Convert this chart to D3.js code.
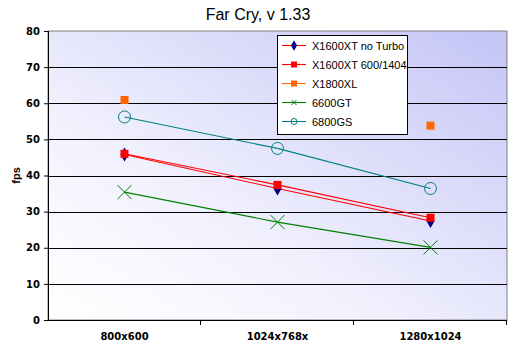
<!DOCTYPE html>
<html>
<head>
<meta charset="utf-8">
<script src="https://cdn.jsdelivr.net/npm/d3@7"></script>
<style>
  body { margin: 0; background: #fff; }
  svg { font-family: Arial, "Liberation Sans", sans-serif; }
</style>
</head>
<body>
<div id="chart"></div>
<script>
// data
const resolutions = ["800x600", "1024x768x", "1280x1024"];
const yTicks = [0, 10, 20, 30, 40, 50, 60, 70, 80];
const seriesNames = ["X1600XT no Turbo", "X1600XT 600/1404", "X1800XL", "6600GT", "6800GS"];
const x1600NoTurbo = [45.8, 36.4, 27.4];
const x1600Oc = [46.0, 37.4, 28.3];
const x1800xl = [60.9, null, 53.8];
const gt6600 = [35.4, 27.1, 20.1];
const gs6800 = [56.2, 47.5, 36.4];

const series = [
  {name: seriesNames[0], values: x1600NoTurbo, line: "#ff0000", mark: "diamond", fill: "#000080"},
  {name: seriesNames[1], values: x1600Oc, line: "#ff0000", mark: "square", fill: "#ff0000"},
  {name: seriesNames[2], values: x1800xl, line: "#ff6600", mark: "square", fill: "#ff6600"},
  {name: seriesNames[3], values: gt6600, line: "#008000", mark: "x", fill: "#008000"},
  {name: seriesNames[4], values: gs6800, line: "#008080", mark: "circle", fill: "none"}
];

const W = 516, H = 351;
const margin = {top: 31, right: 9, bottom: 31, left: 48};
const innerW = W - margin.left - margin.right;
const innerH = H - margin.top - margin.bottom;

const svg = d3.select("#chart").append("svg")
    .attr("width", W)
    .attr("height", H);

const defs = svg.append("defs");
const grad = defs.append("linearGradient")
    .attr("id", "bg")
    .attr("x1", "0%").attr("y1", "100%")
    .attr("x2", "100%").attr("y2", "0%");
grad.append("stop").attr("offset", "0%").attr("stop-color", "#ffffff");
grad.append("stop").attr("offset", "35%").attr("stop-color", "#f2f2fe");
grad.append("stop").attr("offset", "100%").attr("stop-color", "#c4c4f6");

svg.append("text")
    .attr("x", W / 2)
    .attr("y", 20)
    .attr("text-anchor", "middle")
    .style("font-size", "16px")
    .text("Far Cry, v 1.33");

const g = svg.append("g")
    .attr("transform", "translate(" + margin.left + "," + margin.top + ")");

const x = d3.scaleBand()
    .domain(resolutions)
    .range([0, innerW]);

const y = d3.scaleLinear()
    .domain([0, 80])
    .range([innerH, 0]);

g.append("rect")
    .attr("width", innerW)
    .attr("height", innerH)
    .style("fill", "url(#bg)")
    .style("stroke", "#808080");

// gridlines
g.selectAll(".grid")
    .data(yTicks.slice(1, -1))
    .enter().append("line")
    .attr("x1", 0).attr("x2", innerW)
    .attr("y1", d => Math.round(y(d)) + 0.5)
    .attr("y2", d => Math.round(y(d)) + 0.5)
    .style("stroke", "#000")
    .style("stroke-width", 1);

// y axis
const yAxis = d3.axisLeft(y)
    .tickValues(yTicks)
    .tickSize(4)
    .tickPadding(4);

const yg = g.append("g").call(yAxis);
yg.select(".domain").attr("d", "M0.5," + innerH + "V0");
yg.selectAll("text")
    .style("font-size", "10px")
    .style("font-weight", "bold")
    .style("font-family", "Tahoma, 'DejaVu Sans', sans-serif");

// x axis
const xAxis = d3.axisBottom(x).tickSize(0).tickPadding(13);
const xg = g.append("g")
    .attr("transform", "translate(0," + innerH + ")")
    .call(xAxis);
xg.select(".domain").attr("d", "M0,0.5H" + innerW);
xg.selectAll("text")
    .style("font-size", "10px")
    .style("font-weight", "bold")
    .style("font-family", "Tahoma, 'DejaVu Sans', sans-serif");

// category boundary ticks
xg.selectAll(".bound")
    .data(resolutions)
    .enter().append("line")
    .attr("x1", d => Math.round(x(d) + x.bandwidth()) - 0.5)
    .attr("x2", d => Math.round(x(d) + x.bandwidth()) - 0.5)
    .attr("y1", 0).attr("y2", 5)
    .style("stroke", "#000");

svg.append("text")
    .attr("transform", "translate(20," + (margin.top + innerH / 2) + ") rotate(-90)")
    .attr("text-anchor", "middle")
    .style("font-size", "11px")
    .style("font-weight", "bold")
    .text("fps");

const cx = i => x(resolutions[i]) + x.bandwidth() / 2;

function drawMarker(sel, type, color, fill, size) {
  if (type === "diamond") {
    sel.append("path")
        .attr("d", d3.symbol(d3.symbolDiamond, size * size * 0.9)())
        .style("fill", fill);
  } else if (type === "square") {
    sel.append("rect")
        .attr("x", -size / 2).attr("y", -size / 2)
        .attr("width", size).attr("height", size)
        .style("fill", fill);
  } else if (type === "x") {
    const s = size / 2;
    sel.append("path")
        .attr("d", "M" + -s + "," + -s + "L" + s + "," + s + "M" + -s + "," + s + "L" + s + "," + -s)
        .style("stroke", color)
        .style("fill", "none");
  } else if (type === "circle") {
    sel.append("circle")
        .attr("r", size / 2)
        .style("stroke", color)
        .style("fill", "none");
  }
}

const line = d3.line()
    .defined(d => d.v !== null)
    .x(d => cx(d.i))
    .y(d => y(d.v));

const markSize = {diamond: 8, square: 8, x: 14, circle: 12};

series.forEach(s => {
  const pts = s.values.map((v, i) => ({v: v, i: i}));
  // only draw segments between two defined neighbours
  for (let i = 0; i < pts.length - 1; i++) {
    if (pts[i].v === null || pts[i + 1].v === null) continue;
    g.append("path")
        .attr("d", line([pts[i], pts[i + 1]]))
        .style("fill", "none")
        .style("stroke", s.line)
        .style("stroke-width", 1.1);
  }
});

series.forEach(s => {
  s.values.forEach((v, i) => {
    if (v === null) return;
    const m = g.append("g")
        .attr("transform", "translate(" + cx(i) + "," + y(v) + ")");
    drawMarker(m, s.mark, s.line, s.fill, markSize[s.mark]);
  });
});

// legend
const legend = svg.append("g").attr("transform", "translate(277,35)");
legend.append("rect")
    .attr("x", 0.5).attr("y", 0.5)
    .attr("width", 130).attr("height", 99)
    .style("fill", "#fff")
    .style("stroke", "#000");

series.forEach((s, i) => {
  const row = legend.append("g").attr("transform", "translate(0," + (10.5 + i * 19) + ")");
  row.append("line")
      .attr("x1", 5).attr("x2", 29)
      .style("stroke", s.line)
      .style("stroke-width", 1.1);
  const m = row.append("g").attr("transform", "translate(17,0)");
  const small = {diamond: 6, square: 6, x: 5, circle: 6}[s.mark];
  drawMarker(m, s.mark, s.line, s.fill, small);
  row.append("text")
      .attr("x", 35)
      .attr("y", 4)
      .style("font-size", "11px")
      .text(s.name);
});
</script>
</body>
</html>
